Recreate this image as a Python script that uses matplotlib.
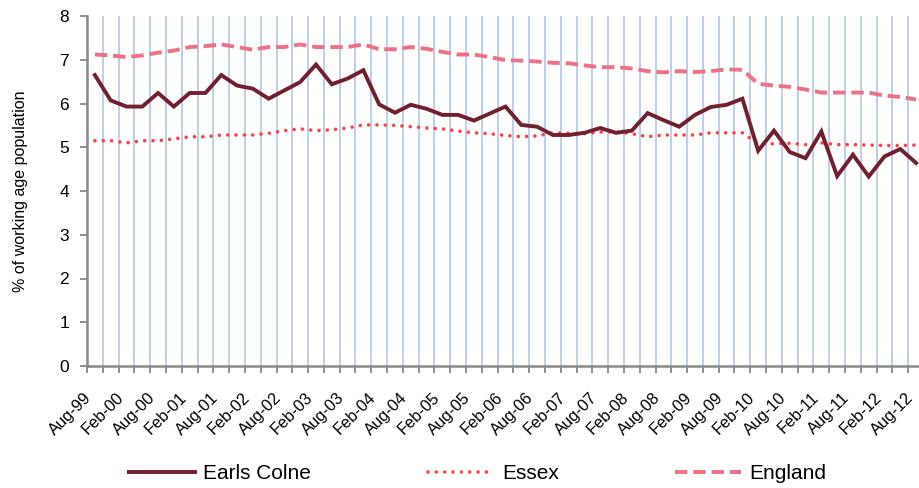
import matplotlib
matplotlib.use("Agg")
import matplotlib.pyplot as plt
from matplotlib.transforms import ScaledTranslation
import numpy as np

plt.rcParams['font.family'] = ['Liberation Sans', 'DejaVu Sans']

# Quarterly observations Aug-99 .. Aug-12 (53 points); labels every 2nd point
tick_labels = ["Aug-99", "Feb-00", "Aug-00", "Feb-01", "Aug-01", "Feb-02", "Aug-02",
               "Feb-03", "Aug-03", "Feb-04", "Aug-04", "Feb-05", "Aug-05", "Feb-06",
               "Aug-06", "Feb-07", "Aug-07", "Feb-08", "Aug-08", "Feb-09", "Aug-09",
               "Feb-10", "Aug-10", "Feb-11", "Aug-11", "Feb-12", "Aug-12"]

earls_colne = [6.65, 6.07, 5.93, 5.93, 6.24, 5.93, 6.24, 6.24, 6.65, 6.41,
               6.34, 6.11, 6.30, 6.49, 6.89, 6.44, 6.57, 6.76, 5.98, 5.79,
               5.97, 5.88, 5.74, 5.74, 5.61, 5.77, 5.93, 5.51, 5.47, 5.28,
               5.28, 5.33, 5.44, 5.33, 5.38, 5.78, 5.62, 5.47, 5.74, 5.92,
               5.97, 6.11, 4.92, 5.38, 4.89, 4.75, 5.36, 4.34, 4.83, 4.33,
               4.79, 4.96, 4.64]

essex = [5.15, 5.15, 5.10, 5.15, 5.15, 5.19, 5.24, 5.24, 5.28, 5.28,
         5.28, 5.32, 5.38, 5.42, 5.38, 5.40, 5.44, 5.51, 5.51, 5.50,
         5.47, 5.44, 5.42, 5.37, 5.33, 5.31, 5.27, 5.24, 5.26, 5.33,
         5.32, 5.31, 5.35, 5.35, 5.31, 5.24, 5.28, 5.28, 5.28, 5.33,
         5.33, 5.33, 5.08, 5.08, 5.09, 5.06, 5.10, 5.06, 5.06, 5.05,
         5.04, 5.04, 5.05]

england = [7.12, 7.10, 7.06, 7.10, 7.16, 7.21, 7.29, 7.31, 7.35, 7.29,
           7.23, 7.29, 7.29, 7.35, 7.29, 7.29, 7.29, 7.35, 7.24, 7.24,
           7.29, 7.25, 7.18, 7.12, 7.12, 7.06, 6.99, 6.98, 6.96, 6.93,
           6.92, 6.87, 6.83, 6.83, 6.80, 6.74, 6.71, 6.74, 6.72, 6.74,
           6.78, 6.77, 6.45, 6.41, 6.38, 6.32, 6.25, 6.25, 6.25, 6.25,
           6.18, 6.15, 6.09]

series_names = ["Earls Colne", "Essex", "England"]

n = len(earls_colne)
x = np.arange(n)

fig = plt.figure(figsize=(9.19, 4.88), dpi=100)
W, H = 919, 488
left_px, right_px, top_px, bottom_px = 87, 924, 16, 366
ax = fig.add_axes([left_px / W, (H - bottom_px) / H,
                   (right_px - left_px) / W, (bottom_px - top_px) / H])

grid_col = "#BCD0E8"
spine_col = "#898989"

# vertical gridlines between categories
for b in np.arange(0.5, n - 0.5, 1.0):
    ax.axvline(b, color=grid_col, lw=1.4, zorder=0)

ax.plot(x, england, color="#EE7186", lw=2.8, linestyle=(0, (3.2, 1.5)),
        dash_capstyle='butt', label=series_names[2], zorder=3)
ax.plot(x, essex, color="#FF3F4A", lw=2.6, linestyle=(0, (0.01, 2.3)),
        dash_capstyle='round', label=series_names[1], zorder=3)
ax.plot(x, earls_colne, color="#70202F", lw=2.8, solid_joinstyle='miter',
        label=series_names[0], zorder=4)

ax.set_xlim(-0.5, n - 0.5)
ax.set_ylim(0, 8)
ax.set_yticks(range(0, 9))
ax.tick_params(axis='y', direction='out', length=5, width=1.3, color=spine_col,
               labelsize=12.5, pad=8)

ax.set_xticks(np.arange(0, n, 2))
ax.set_xticklabels(tick_labels, rotation=45, ha='right', va='center',
                   rotation_mode='anchor', fontsize=11.8)
ax.tick_params(axis='x', which='major', length=0, pad=21)
shift = ScaledTranslation(-4 / 72, 0, fig.dpi_scale_trans)
for lab in ax.get_xticklabels():
    lab.set_transform(lab.get_transform() + shift)
ax.set_xticks(np.arange(-0.5, n, 1.0), minor=True)
ax.tick_params(axis='x', which='minor', direction='out', length=5, width=1.3,
               color=spine_col)

for s in ['top', 'right']:
    ax.spines[s].set_visible(False)
for s in ['left', 'bottom']:
    ax.spines[s].set_color(spine_col)
    ax.spines[s].set_linewidth(1.8)

ax.set_ylabel("% of working age population", fontsize=11.5)
ax.yaxis.set_label_coords(-0.07, 0.5)

handles, labels = ax.get_legend_handles_labels()
order = [2, 1, 0]
fig.legend([handles[i] for i in order], [labels[i] for i in order],
           loc='center', bbox_to_anchor=(0.52, 0.029), ncol=3, frameon=False,
           fontsize=15, handlelength=3.15, handletextpad=0.4, columnspacing=5.6)

fig.savefig("out.png", dpi=100)
